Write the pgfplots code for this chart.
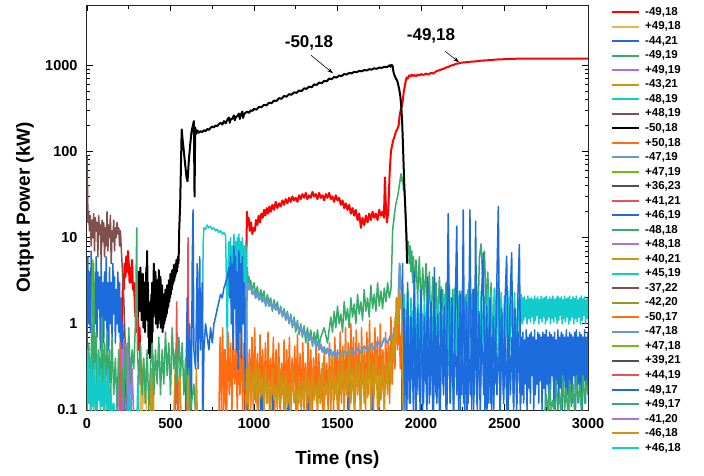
\documentclass[border=0pt]{standalone}
\usepackage{pgfplots}
\pgfplotsset{compat=1.18}
\usepackage{fontspec}
\setmainfont{Liberation Sans}
\usetikzlibrary{arrows.meta}
\definecolor{cRed}{RGB}{255,0,0}
\definecolor{cLGold}{RGB}{232,182,76}
\definecolor{cBlue}{RGB}{28,108,222}
\definecolor{cGreen}{RGB}{58,172,106}
\definecolor{cPurple}{RGB}{176,112,228}
\definecolor{cGold}{RGB}{204,150,18}
\definecolor{cCyan}{RGB}{18,204,204}
\definecolor{cBrown}{RGB}{128,80,76}
\definecolor{cOrange}{RGB}{255,108,18}
\definecolor{cLBlue}{RGB}{102,152,210}
\definecolor{cLime}{RGB}{108,190,20}
\definecolor{cDGray}{RGB}{80,80,80}
\definecolor{cLRed}{RGB}{240,80,80}
\definecolor{cOlive}{RGB}{150,150,40}
\begin{document}
\begin{tikzpicture}
\begin{axis}[
  name=ax, at={(0,0)}, anchor=south west,
  scale only axis, width=501pt, height=405pt,
  xmin=0, xmax=3000, ymin=0.1, ymax=5000, ymode=log,
  unbounded coords=jump, no markers,
  every axis plot/.append style={line width=1.5pt, line join=round},
  xtick={0,500,...,3000}, xticklabels={0,500,1000,1500,2000,2500,3000},
  minor x tick num=1,
  ytick={0.1,1,10,100,1000}, yticklabels={0.1,1,10,100,1000},
  /pgf/number format/assume math mode=true,
  tick label style={font=\bfseries\fontsize{14.5}{16}\selectfont},
  yticklabel style={xshift=-6pt}, xticklabel style={yshift=-5pt},
  major tick length=6pt, minor tick length=3.5pt,
  every tick/.style={black, line width=0.8pt},
  axis line style={line width=1pt, black!85},
  xlabel={Time (ns)}, ylabel={Output Power (kW)},
  label style={font=\bfseries\fontsize{19}{22}\selectfont},
  xlabel style={at={(axis description cs:0.5,-0.1235)}, anchor=center},
  ylabel style={at={(axis description cs:-0.1238,0.5)}, anchor=center},
  legend style={at={(axis description cs:1,1)}, anchor=north west, xshift=23pt, yshift=0pt,
    draw=none, fill=none, inner sep=0pt, font=\bfseries\fontsize{11.5}{13}\selectfont,
    row sep=1pt, /tikz/every odd column/.append style={column sep=3pt}},
  legend cell align=left,
  legend image code/.code={\draw[#1, line width=2pt] (0pt,0pt) -- (27pt,0pt);},
]
% 1 -49,18
\addplot[cRed, line width=2pt] coordinates {(205,0.09)(210,1)(215,3)(220,2.5)(225,5)(230,3.5)(235,6)(240,4)(245,7)(250,5)(255,3)(260,4.5)(265,3)(270,5.5)(275,2.5)(280,3)(285,2)(290,1.2)(295,2)(300,0.8)(305,1.5)(310,0.5)(315,0.9)(320,0.3)(325,0.09)(330,nan)
(945,0.09)(952,3)(958,20)(963,14)(968,17)(975,12)(982,15)(990,11)(997,13)(1005,12)(1012,16)(1020,14)(1028,18)(1036,15)(1044,19)(1052,17)(1060,21)(1068,18)(1076,22)(1084,19)(1092,23)(1100,20)(1110,24)(1120,21)(1130,26)(1140,22)(1150,25)(1160,23)(1170,27)(1180,24)(1190,28)(1200,25)(1210,29)(1220,26)(1230,30)(1240,27)(1250,29)(1260,26)(1270,31)(1280,28)(1290,32)(1300,29)(1310,33)(1320,28)(1330,31)(1340,29)(1350,34)(1360,30)(1370,32)(1380,28)(1390,33)(1400,29)(1410,31)(1420,27)(1430,32)(1440,29)(1450,33)(1460,28)(1470,30)(1480,26)(1490,31)(1500,27)(1510,29)(1520,24)(1530,27)(1540,22)(1550,25)(1560,21)(1570,24)(1580,19)(1590,22)(1600,18)(1610,21)(1620,16)(1630,19)(1640,13)(1650,17)(1660,14)(1670,18)(1680,15)(1690,19)(1700,16)(1710,20)(1720,17)(1730,19)(1740,16)(1750,21)(1760,18)(1770,20)(1778,17)(1784,50)(1790,22)(1796,15)(1804,20)(1812,55)(1820,100)(1826,115)(1834,135)(1842,150)(1850,170)(1858,180)(1866,200)(1872,260)(1878,300)(1884,330)(1890,380)(1896,480)(1902,560)(1908,650)(1914,720)(1920,700)(1928,760)(1936,740)(1944,780)(1952,750)(1960,770)(1970,745)(1980,780)(1990,760)(2000,790)(2015,770)(2030,800)(2045,780)(2060,820)(2075,800)(2090,850)(2105,870)(2120,890)(2135,910)(2150,940)(2165,960)(2180,990)(2195,1010)(2210,1040)(2225,1050)(2240,1070)(2260,1080)(2280,1090)(2300,1100)(2330,1110)(2360,1130)(2390,1140)(2420,1150)(2450,1165)(2480,1170)(2510,1180)(2540,1185)(2570,1190)(2600,1190)(2650,1190)(2700,1195)(2750,1190)(2800,1195)(2850,1190)(2900,1195)(2950,1190)(3000,1195)};
\addlegendentry{-49,18}
% 2 +49,18
\addplot[cLGold] coordinates {(320,0.09)(326,0.35)(332,0.1)(338,0.4)(344,0.12)(350,0.3)(356,0.09)};
\addlegendentry{+49,18}
% 3 -44,21
\addplot[cBlue] coordinates {(0,0.5)(5,6)(10,1)(15,4)(20,0.8)(25,7)(30,1.2)(35,5)(40,0.6)(45,3)(50,1)(55,6)(60,0.7)(65,4)(70,1.5)(75,3.5)(80,0.5)(85,5)(90,0.9)(95,3)(100,0.6)(105,4)(110,1.1)(115,6)(120,0.8)(125,3)(130,0.5)(135,4.5)(140,1)(145,3)(150,0.7)(155,5)(160,1.3)(165,3.5)(170,0.6)(175,2.5)(180,1)(185,4)(190,0.8)(195,3)(200,0.5)(205,2)(210,0.3)(215,1)(220,0.15)(225,0.09)(230,nan)(1040,0.09)(1045,0.3)(1050,0.09)(1110,0.09)(1115,0.25)(1120,0.09)(1200,0.09)(1205,0.35)(1210,0.09)(1320,0.09)(1325,0.2)(1330,0.09)(1560,0.09)(1565,0.3)(1570,0.09)(1700,0.09)(1705,0.25)(1710,0.09)};
\addlegendentry{-44,21}
% 4 -49,19
\addplot[cGreen] coordinates {(950,0.09)(955,2)(960,4.5)(965,3)(970,3.5)(975,2.5)(980,3.2)(990,2.4)(1000,3)(1010,2.2)(1020,2.7)(1030,1.9)(1040,2.5)(1050,2)(1060,2.4)(1070,1.6)(1080,2.2)(1090,1.7)(1100,2)(1110,1.4)(1120,1.9)(1130,1.5)(1140,1.8)(1150,1.3)(1160,1.6)(1170,1.2)(1180,1.5)(1190,1.1)(1200,1.4)(1210,1)(1220,1.3)(1230,0.9)(1240,1.2)(1250,0.8)(1260,1.1)(1270,0.75)(1280,1)(1290,0.7)(1300,0.95)(1310,0.6)(1320,0.9)(1330,0.65)(1340,0.85)(1350,0.55)(1360,0.8)(1370,0.6)(1380,0.85)(1390,0.55)(1400,0.7)(1420,0.9)(1440,0.6)(1460,1.2)(1470,0.8)(1480,1.4)(1490,0.9)(1500,1.6)(1510,1)(1520,1.3)(1530,0.8)(1540,1.8)(1550,1.1)(1560,1.5)(1570,0.9)(1580,2)(1590,1.2)(1600,1.7)(1610,1)(1620,2.2)(1630,1.3)(1640,1.8)(1650,1.1)(1660,2.5)(1670,1.4)(1680,2)(1690,1.2)(1700,2.8)(1710,1.5)(1720,2.2)(1730,1.4)(1740,3)(1750,1.6)(1760,2.4)(1770,1.5)(1780,2.6)(1790,1.8)(1800,3)(1810,2)(1820,2.5)(1825,5)(1830,12)(1840,18)(1850,25)(1860,30)(1870,40)(1880,55)(1885,45)(1890,50)(1895,35)(1900,38)(1905,25)(1910,15)(1915,10)(1920,7)(1925,9)(1930,5)(1935,8)(1940,4)(1945,7)(1950,3)(1955,6)(1960,2.5)(1970,5.5)(1980,2)(1990,6)(2000,1.5)(2010,4.5)(2020,1.8)(2030,5)(2040,1.2)(2050,4)(2060,0.8)(2070,3.5)(2080,1.5)(2090,3)(2100,0.9)(2110,3.5)(2120,1.2)(2130,2.5)(2140,0.7)(2150,3)(2160,1.1)(2170,2.8)(2180,0.6)(2190,2.5)(2200,1)(2210,3)(2220,0.8)(2230,2.4)(2240,0.5)(2250,2.8)(2260,0.9)(2270,2.2)(2280,0.5)(2290,3)(2300,0.8)(2310,2.5)(2320,0.6)(2330,4)(2340,1)(2350,6)(2360,8.5)(2370,3)(2380,7)(2390,1.5)(2400,4)(2410,0.8)(2420,3)(2430,0.6)(2440,2.5)(2450,0.5)(2460,3)(2470,0.4)(2480,2)(2490,0.3)(2500,1.5)(2510,0.2)(2520,0.09)};
\addlegendentry{-49,19}
% 5 +49,19
\addplot[cPurple] coordinates {(185,0.09)(190,0.4)(195,0.12)(200,0.6)(205,0.15)(210,0.5)(215,0.1)(220,0.65)(225,0.2)(230,0.55)(235,0.12)(240,0.6)(245,0.2)(250,0.5)(255,0.15)(260,0.4)(265,0.1)(270,0.3)(280,0.09)};
\addlegendentry{+49,19}
% 6 -43,21
\addplot[cGold] coordinates {(380,0.09)(385,0.3)(390,0.1)(395,0.45)(400,0.09)(405,nan)(520,0.09)(528,0.3)(535,0.12)(542,0.25)(549,0.1)(556,0.3)(563,0.09)};
\addlegendentry{-43,21}
% 7 -48,19
\addplot[cCyan] coordinates {(690,0.09)(695,8)(700,13)(710,12.5)(720,14)(730,13)(740,13.5)(750,12.5)(760,13)(770,12)(780,12.5)(790,11.5)(800,12)(810,11)(820,11.5)(830,10.5)(835,3)(840,0.5)(845,5)(850,9)(855,2)(860,10)(865,1)(870,8)(875,0.4)(880,11)(885,3)(890,9)(895,0.3)(900,10)(905,2)(910,11)(915,0.5)(920,9)(925,3)(930,10)(935,1)(940,8)(945,2)(950,9)(955,5)(960,0.09)};
\addlegendentry{-48,19}
% 8 +48,19
\addplot[cBrown] coordinates {(0,90)(3,40)(6,15)(10,20)(15,12)(20,18)(25,8)(30,16)(35,10)(40,19)(45,7)(50,17)(55,12)(60,15)(65,6)(70,18)(75,11)(80,14)(85,5)(90,16)(95,9)(100,15)(105,6)(110,13)(115,8)(120,20)(125,7)(130,14)(135,10)(140,18)(145,5)(150,12)(155,9)(160,16)(165,7)(170,13)(175,10)(180,15)(185,11)(190,13)(195,8)(200,12)(210,5)(220,2)(230,0.5)(235,0.09)};
\addlegendentry{+48,19}
% 9 -50,18
\addplot[black, line width=2pt] coordinates {(300,3)(302.5,1.2)(305,2.8)(307.5,1.5)(310,4)(312.5,1.8)(315,3.2)(317.5,1.4)(320,4.5)(322.5,2)(325,3.5)(327.5,1.1)(330,2.5)(332.5,1.3)(335,3.8)(337.5,0.9)(340,2.2)(342.5,1)(345,3)(347.5,0.8)(350,2)(352.5,1.1)(355,4.5)(357.5,2.5)(360,7)(362.5,2)(365,3)(367.5,0.7)(370,1.5)(372.5,0.45)(375,1.2)(377.5,0.4)(380,1.8)(382.5,0.6)(385,2.2)(387.5,0.5)(390,3)(392.5,0.8)(395,2.5)(397.5,1.2)(400,5)(402.5,1.5)(405,3.5)(407.5,1.3)(410,4)(412.5,1)(415,3)(417.5,1.2)(420,3.2)(422.5,0.9)(425,2.5)(427.5,1)(430,4.2)(432.5,1.4)(435,3)(437.5,1.1)(440,3.5)(442.5,0.9)(445,2.6)(447.5,1)(450,2.8)(452.5,0.8)(455,2)(457.5,0.9)(460,2.2)(462.5,1)(465,1.8)(467.5,1.1)(470,2.5)(472.5,1.2)(475,2.2)(477.5,1.3)(480,2.8)(482.5,1.5)(485,2.5)(487.5,1.6)(490,3.2)(492.5,1.8)(495,3)(497.5,2)(500,3.8)(502.5,2.2)(505,3.5)(507.5,2.5)(510,4.2)(512.5,2.8)(515,4)(517.5,3)(520,4.8)(522.5,3.2)(525,4.5)(527.5,3.5)(530,5)(532.5,3.8)(535,5.5)(537.5,4)(540,5.2)(542.5,4.5)(545,6)(547.5,5)(550,7)(552,12)(558,25)(562,60)(567,180)(572,140)(580,100)(588,70)(596,50)(602,45)(610,80)(618,120)(626,170)(634,200)(640,225)(644,30)(648,190)(655,160)(662,175)(670,165)(680,172)(690,168)(700,176)(710,172)(720,182)(730,178)(740,188)(750,195)(760,190)(770,200)(780,196)(790,208)(800,215)(810,205)(820,225)(830,212)(840,232)(850,248)(855,215)(860,235)(870,240)(880,262)(885,230)(890,248)(900,258)(910,275)(915,238)(920,262)(930,290)(935,245)(940,270)(950,282)(960,288)(970,280)(980,300)(990,295)(1000,312)(1015,305)(1030,330)(1045,325)(1060,348)(1075,342)(1090,368)(1105,362)(1120,390)(1135,385)(1150,415)(1165,408)(1180,440)(1195,432)(1210,462)(1225,455)(1240,485)(1255,478)(1270,510)(1285,500)(1300,540)(1315,532)(1330,565)(1345,555)(1360,600)(1375,590)(1390,630)(1405,618)(1420,660)(1435,650)(1450,700)(1465,690)(1480,730)(1495,720)(1510,760)(1525,750)(1540,790)(1555,780)(1570,815)(1585,805)(1600,840)(1615,830)(1630,860)(1645,850)(1660,880)(1675,870)(1690,900)(1705,890)(1720,920)(1735,910)(1750,940)(1765,930)(1780,960)(1795,950)(1805,975)(1812,1000)(1818,960)(1824,1010)(1830,980)(1836,820)(1842,760)(1850,700)(1858,660)(1864,590)(1870,520)(1876,440)(1882,330)(1888,200)(1894,90)(1900,40)(1906,22)(1912,11)(1917,5)};
\addlegendentry{-50,18}
% 10 +50,18
\addplot[cOrange] coordinates {(790,0.09)(797,0.7)(805,0.1)(812,0.9)(820,0.12)(828,0.5)(836,0.09)(844,0.8)(852,0.15)(860,0.6)(868,0.1)(876,0.85)(884,0.2)(892,0.5)(900,0.1)(908,0.7)(916,0.15)(924,0.9)(932,0.1)(940,0.6)(948,0.12)(956,0.8)(964,0.1)(972,0.5)(980,0.15)(988,0.7)(996,0.1)(1004,0.9)(1012,0.12)(1020,0.45)(1028,0.1)(1036,0.75)(1044,0.15)(1052,0.5)(1060,0.1)(1068,0.6)(1076,0.12)(1084,0.8)(1092,0.1)(1100,0.4)(1108,0.15)(1116,0.7)(1124,0.1)(1132,0.5)(1140,0.12)(1148,0.6)(1156,0.1)(1164,0.35)(1172,0.15)(1180,0.65)(1188,0.1)(1196,0.5)(1204,0.12)(1212,0.7)(1220,0.1)(1228,0.4)(1236,0.15)(1244,0.55)(1252,0.1)(1260,0.75)(1268,0.12)(1276,0.45)(1284,0.1)(1292,0.6)(1300,0.15)(1308,0.35)(1316,0.1)(1324,0.7)(1332,0.12)(1340,0.5)(1348,0.1)(1356,0.4)(1364,0.15)(1372,0.6)(1380,0.1)(1388,0.45)(1396,0.12)(1404,0.3)(1412,0.1)(1420,0.5)(1428,0.15)(1436,0.35)(1444,0.1)(1452,0.6)(1460,0.12)(1468,0.45)(1476,0.1)(1484,0.7)(1492,0.15)(1500,0.5)(1508,0.1)(1516,0.8)(1524,0.12)(1532,0.55)(1540,0.1)(1548,0.9)(1556,0.15)(1564,0.6)(1572,0.1)(1580,1.0)(1588,0.2)(1596,0.7)(1604,0.1)(1612,0.85)(1620,0.15)(1628,0.6)(1636,0.1)(1644,0.9)(1652,0.2)(1660,0.5)(1668,0.1)(1676,0.8)(1684,0.15)(1692,1.1)(1700,0.12)(1708,0.6)(1716,0.1)(1724,0.9)(1732,0.2)(1740,0.7)(1748,0.1)(1756,1.0)(1764,0.15)(1772,0.5)(1780,0.1)(1788,0.8)(1796,0.2)(1804,0.6)(1812,0.12)(1820,1.2)(1828,0.2)(1836,0.9)(1844,0.3)(1852,2)(1860,0.5)(1868,1.5)(1876,0.3)(1884,0.8)(1892,0.09)};
\addlegendentry{+50,18}
% 11 -47,19
\addplot[cLBlue, line width=2pt] coordinates {(950,0.09)(955,1.5)(960,3)(970,2.5)(980,2.8)(990,2.2)(1000,2.4)(1010,2)(1020,2.3)(1030,1.9)(1040,2.1)(1050,1.8)(1060,2)(1070,1.7)(1080,1.9)(1090,1.6)(1100,1.8)(1110,1.5)(1120,1.7)(1130,1.45)(1140,1.6)(1150,1.35)(1160,1.5)(1170,1.25)(1180,1.4)(1190,1.15)(1200,1.3)(1210,1.05)(1220,1.2)(1230,0.95)(1240,1.1)(1250,0.9)(1260,1)(1270,0.82)(1280,0.92)(1290,0.75)(1300,0.85)(1310,0.7)(1320,0.78)(1330,0.64)(1340,0.72)(1350,0.6)(1360,0.66)(1370,0.55)(1380,0.62)(1390,0.5)(1400,0.58)(1410,0.47)(1420,0.54)(1430,0.45)(1440,0.52)(1450,0.43)(1460,0.5)(1470,0.42)(1480,0.48)(1490,0.41)(1500,0.47)(1520,0.42)(1540,0.48)(1560,0.43)(1580,0.5)(1600,0.44)(1620,0.52)(1640,0.46)(1660,0.55)(1680,0.48)(1700,0.58)(1720,0.5)(1740,0.62)(1760,0.54)(1780,0.68)(1800,0.6)(1820,0.75)(1840,0.7)(1855,0.9)(1865,2)(1872,5)(1880,3)(1890,1)(1900,0.3)(1905,0.09)};
\addlegendentry{-47,19}
% 12 +47,19
\addplot[cLime] coordinates {(25,0.09)(30,2)(35,5.5)(40,3)(45,0.5)(50,0.09)};
\addlegendentry{+47,19}
% 13 +36,23
\addplot[cDGray] coordinates {(0,0.05)(3000,0.05)};
\addlegendentry{+36,23}
% 14 +41,21
\addplot[cLRed] coordinates {(530,0.09)(537,1.8)(544,0.09)(560,nan)(598,0.09)(605,10)(612,0.09)};
\addlegendentry{+41,21}
% 15 +46,19
\addplot[cBlue] coordinates {(590,0.09)(600,2)(605,0.1)(615,1)(625,0.09)(630,5)(635,21)(640,0.5)(650,0.3)(660,5)(665,0.3)(675,6)(680,0.5)(690,3)(695,0.09)(700,0.5)(710,1)(720,0.7)(730,0.5)(740,0.9)(750,0.6)(760,1)(770,1.2)(780,1.5)(790,1.8)(800,2.2)(810,2)(820,2.6)(830,3)(840,3.5)(850,4.5)(855,2)(860,6)(865,1)(870,5)(875,0.5)(880,8)(885,1.5)(890,6)(895,0.5)(900,4)(905,0.3)(910,7)(915,0.8)(920,5)(925,0.4)(930,6)(935,1)(940,3)(945,0.5)(950,0.15)(960,0.09)(970,nan)
(1895,0.09)(1905,0.9)(1915,0.1)(1925,1.2)(1935,0.12)(1945,0.7)(1955,0.09)(1965,1.0)(1975,0.15)(1985,0.8)(1995,0.1)(2005,1.3)(2015,0.12)(2025,0.9)(2035,0.09)(2045,1.2)(2055,0.15)(2065,0.7)(2075,0.1)(2085,1.0)(2095,0.12)(2105,0.8)(2115,0.09)(2125,1.3)(2135,0.15)(2145,0.9)(2155,0.1)(2165,1.2)(2175,0.12)(2185,0.7)(2195,0.09)(2205,1.0)(2215,0.15)(2225,0.8)(2235,0.1)(2245,1.3)(2255,0.12)(2265,0.9)(2275,0.09)(2285,1.2)(2295,0.15)(2305,0.7)(2315,0.1)(2325,1.0)(2335,0.12)(2345,0.8)(2355,0.09)(2365,1.3)(2375,0.15)(2385,0.9)(2395,0.1)(2405,1.2)(2415,0.12)(2425,0.7)(2435,0.09)(2445,1.0)(2455,0.15)(2465,0.8)(2475,0.1)(2485,1.3)(2495,0.12)(2505,0.9)(2515,0.09)(2525,1.2)(2535,0.15)(2545,0.7)(2555,0.1)(2565,1.0)(2575,0.12)(2585,0.8)(2595,0.1)};
\addlegendentry{+46,19}
% 16 -48,18
\addplot[cGreen] coordinates {(0,0.2)(10,0.6)(20,0.15)(30,1)(35,0.2)(40,5)(45,0.3)(55,0.8)(60,0.15)(70,0.5)(80,0.2)(90,1.2)(95,0.2)(105,0.6)(110,0.12)(120,0.8)(125,0.2)(135,0.5)(140,0.1)(150,0.7)(160,0.15)(170,0.4)(180,0.1)(190,0.5)(200,0.12)(210,0.3)(220,0.1)(230,0.6)(240,0.15)(250,0.9)(260,0.2)(270,0.5)(280,0.3)(290,1)(295,5)(298,13)(302,0.5)(310,0.2)(320,0.6)(330,0.15)(340,0.4)(350,0.12)(360,0.5)(370,0.1)(380,0.3)(390,0.6)(400,0.15)(410,0.5)(420,0.2)(430,0.7)(440,0.15)(450,0.5)(460,0.2)(470,0.8)(480,0.25)(490,0.6)(500,0.15)(510,0.9)(520,0.3)(530,0.5)(540,0.2)(550,0.7)(560,0.25)(570,0.6)(580,0.15)(590,0.4)(600,0.12)(610,0.3)(620,0.1)(640,0.2)(650,0.09)};
\addlegendentry{-48,18}
% 17 +48,18
\addplot[cPurple] coordinates {(240,0.09)(244,0.45)(248,0.09)};
\addlegendentry{+48,18}
% 18 +40,21
\addplot[cGold] coordinates {(600,0.09)(605,0.25)(610,0.09)(630,nan)(650,0.09)(655,0.3)(660,0.09)};
\addlegendentry{+40,21}
% 19 +45,19
\addplot[cCyan] coordinates {(1890,0.09)(1900,2.2)(1910,0.5)(1920,2.6)(1930,0.4)(1940,2.0)(1950,0.7)(1960,2.8)(1970,0.3)(1980,2.2)(1990,0.6)(2000,2.5)(2010,0.4)(2020,1.8)(2030,0.8)(2040,2.6)(2050,0.3)(2060,2.1)(2070,0.6)(2080,2.4)(2090,0.35)(2100,1.9)(2110,0.7)(2120,2.7)(2130,0.4)(2140,2.2)(2150,0.5)(2160,2.5)(2170,0.3)(2180,2.0)(2190,0.6)(2200,2.6)(2210,0.45)(2220,2.1)(2230,0.7)(2240,2.4)(2250,0.35)(2260,2.0)(2270,0.6)(2280,2.5)(2290,0.4)(2300,2.2)(2310,0.8)(2320,2.6)(2330,0.5)(2340,2.1)(2350,0.3)(2360,2.4)(2370,0.6)(2380,2.0)(2390,0.45)(2400,2.5)(2410,0.7)(2420,2.2)(2430,0.4)(2440,2.6)(2450,0.6)(2460,2.0)(2470,0.35)(2480,2.3)(2490,0.5)(2500,2.1)(2510,0.7)(2520,2.4)(2530,0.4)(2540,1.9)(2550,0.6)(2560,2.3)(2570,0.5)(2580,2.0)(2590,0.8)(2600,2.2)(2605,1.0)(2610,2.0)(2615,1.1)(2620,2.05)(2625,1.2)(2630,1.9)(2635,1.0)(2640,2.1)(2645,1.15)(2650,1.95)(2655,1.05)(2660,2.0)(2665,1.2)(2670,1.9)(2675,1.0)(2680,2.1)(2685,1.1)(2690,1.95)(2695,1.25)(2700,2.05)(2705,1.0)(2710,1.9)(2715,1.15)(2720,2.1)(2725,1.05)(2730,1.95)(2735,1.2)(2740,2.0)(2745,1.0)(2750,2.1)(2755,1.1)(2760,1.9)(2765,1.2)(2770,2.05)(2775,1.0)(2780,1.95)(2785,1.15)(2790,2.1)(2795,1.05)(2800,1.9)(2805,1.2)(2810,2.0)(2815,1.0)(2820,2.1)(2825,1.1)(2830,1.95)(2835,1.25)(2840,2.05)(2845,1.0)(2850,1.9)(2855,1.15)(2860,2.1)(2865,1.05)(2870,1.95)(2875,1.2)(2880,2.0)(2885,1.0)(2890,2.1)(2895,1.1)(2900,1.9)(2905,1.2)(2910,2.05)(2915,1.0)(2920,1.95)(2925,1.15)(2930,2.1)(2935,1.05)(2940,1.9)(2945,1.2)(2950,2.0)(2955,1.0)(2960,2.1)(2965,1.1)(2970,1.95)(2975,1.25)(2980,2.05)(2985,1.0)(2990,1.9)(2995,1.15)(3000,2.0)};
\addlegendentry{+45,19}
% 20 -37,22
\addplot[cBrown] coordinates {(0,0.05)(3000,0.05)};
\addlegendentry{-37,22}
% 21 -42,20
\addplot[cOlive] coordinates {(0,0.05)(3000,0.05)};
\addlegendentry{-42,20}
% 22 -50,17
\addplot[cOrange] coordinates {(815,0.09)(822,0.5)(830,0.09)(850,nan)(1250,0.09)(1256,0.4)(1262,0.09)};
\addlegendentry{-50,17}
% 23 -47,18
\addplot[cLBlue] coordinates {(0,0.05)(3000,0.05)};
\addlegendentry{-47,18}
% 24 +47,18
\addplot[cLime] coordinates {(100,0.09)(104,0.3)(108,0.09)};
\addlegendentry{+47,18}
% 25 +39,21
\addplot[cDGray] coordinates {(0,0.05)(3000,0.05)};
\addlegendentry{+39,21}
% 26 +44,19
\addplot[cLRed] coordinates {(195,0.09)(200,0.6)(205,0.09)};
\addlegendentry{+44,19}
% 27 -49,17
\addplot[cBlue] coordinates {(1885,0.09)(1890,5)(1895,0.1)(1900,1.5)(1910,0.15)(1920,3)(1930,0.12)(1940,1.2)(1950,0.2)(1960,4)(1970,0.1)(1980,1.5)(1990,0.15)(2000,2.5)(2010,0.1)(2020,1.2)(2030,0.2)(2040,3.5)(2050,0.12)(2060,1.8)(2070,0.1)(2080,4.5)(2090,0.15)(2100,1.3)(2110,0.1)(2120,2.5)(2130,0.2)(2140,1.6)(2150,0.1)(2163,19)(2175,0.12)(2185,2)(2195,0.1)(2205,1.5)(2214,13.6)(2225,0.1)(2235,2.2)(2245,0.15)(2253,21)(2262,0.1)(2272,1.8)(2282,0.12)(2293,21)(2303,0.1)(2313,2.5)(2320,0.15)(2327,15.5)(2337,0.1)(2347,1.4)(2357,0.2)(2365,2.8)(2373,6.7)(2383,0.1)(2393,1.6)(2403,0.12)(2413,2)(2423,0.1)(2433,1.2)(2443,0.2)(2453,2.4)(2463,23)(2473,0.1)(2483,1.5)(2493,0.15)(2503,1.8)(2513,6.1)(2523,0.1)(2533,1.7)(2543,6.7)(2553,0.12)(2563,1.5)(2573,0.1)(2580,2)(2589,8.3)(2598,0.12)(2600,0.7)(2605,0.15)(2610,0.8)(2615,0.12)(2620,0.65)(2625,0.2)(2630,0.85)(2635,0.1)(2640,0.7)(2645,0.18)(2650,0.75)(2655,0.12)(2660,0.8)(2665,0.25)(2670,0.7)(2675,0.1)(2680,0.85)(2685,0.15)(2690,0.65)(2695,0.2)(2700,0.8)(2705,0.12)(2710,0.75)(2715,0.22)(2720,0.7)(2725,0.1)(2730,0.8)(2735,0.18)(2740,0.75)(2745,0.12)(2750,0.85)(2755,0.2)(2760,0.7)(2765,0.1)(2770,0.8)(2775,0.15)(2780,0.75)(2785,0.25)(2790,0.7)(2795,0.12)(2800,0.8)(2805,0.1)(2810,0.65)(2815,0.2)(2820,0.85)(2825,0.12)(2830,0.7)(2835,0.18)(2840,0.8)(2845,0.1)(2850,0.75)(2855,0.22)(2860,0.7)(2865,0.12)(2870,0.85)(2875,0.15)(2880,0.7)(2885,0.1)(2890,0.8)(2895,0.2)(2900,0.75)(2905,0.12)(2910,0.7)(2915,0.25)(2920,0.8)(2925,0.1)(2930,0.85)(2935,0.15)(2940,0.7)(2945,0.2)(2950,0.8)(2955,0.12)(2960,0.75)(2965,0.1)(2970,0.7)(2975,0.22)(2980,0.85)(2985,0.12)(2990,0.7)(2995,0.18)(3000,0.8)};
\addlegendentry{-49,17}
% 28 +49,17
\addplot[cGreen] coordinates {(2740,0.09)(2750,0.15)(2760,0.09)(2770,0.2)(2780,0.1)(2790,0.13)(2800,0.09)(2810,0.22)(2820,0.1)(2830,0.16)(2840,0.09)(2850,0.25)(2860,0.1)(2870,0.18)(2880,0.09)(2890,0.22)(2900,0.11)(2910,0.2)(2920,0.09)(2930,0.25)(2940,0.12)(2950,0.2)(2960,0.1)(2970,0.25)(2980,0.12)(2990,0.22)(3000,0.15)};
\addlegendentry{+49,17}
% 29 -41,20
\addplot[cPurple] coordinates {(0,0.05)(3000,0.05)};
\addlegendentry{-41,20}
% 30 -46,18
\addplot[cGold] coordinates {(950,0.09)(955,0.3)(960,0.12)(970,0.35)(980,0.1)(990,0.28)(1000,0.13)(1010,0.4)(1020,0.1)(1030,0.3)(1040,0.14)(1050,0.25)(1060,0.1)(1070,0.32)(1080,0.12)(1090,0.22)(1100,0.1)(1110,0.3)(1120,0.13)(1130,0.2)(1140,0.1)(1150,0.35)(1160,0.12)(1170,0.25)(1180,0.1)(1190,0.28)(1200,0.11)(1210,0.2)(1220,0.1)(1230,0.3)(1240,0.12)(1250,0.18)(1260,0.1)(1270,0.25)(1280,0.11)(1290,0.2)(1300,0.1)(1310,0.28)(1320,0.12)(1330,0.22)(1340,0.1)(1350,0.3)(1360,0.13)(1370,0.2)(1380,0.1)(1390,0.25)(1400,0.12)(1410,0.35)(1420,0.1)(1430,0.22)(1440,0.14)(1450,0.3)(1460,0.1)(1470,0.4)(1480,0.13)(1490,0.25)(1500,0.1)(1510,0.35)(1520,0.15)(1530,0.45)(1540,0.1)(1550,0.3)(1560,0.14)(1570,0.5)(1580,0.12)(1590,0.3)(1600,0.1)(1610,0.4)(1620,0.15)(1630,0.35)(1640,0.1)(1650,0.45)(1660,0.12)(1670,0.3)(1680,0.14)(1690,0.5)(1700,0.1)(1710,0.35)(1720,0.15)(1730,0.45)(1740,0.1)(1750,0.3)(1760,0.13)(1770,0.4)(1780,0.1)(1790,0.35)(1800,0.15)(1810,0.5)(1820,0.2)(1830,0.7)(1838,0.4)(1845,1.2)(1852,0.6)(1858,2)(1864,1)(1870,2.5)(1876,1.5)(1882,2.2)(1888,0.5)(1893,0.09)};
\addlegendentry{-46,18}
% 31 +46,18
\addplot[cCyan] coordinates {(0,0.1)(5,0.5)(10,0.12)(15,0.3)(20,0.1)(25,0.4)(30,0.11)(35,0.25)(40,0.1)(45,0.35)(50,0.12)(55,0.2)(60,0.1)(65,0.45)(70,0.13)(75,0.25)(80,0.1)(85,0.3)(90,0.11)(95,0.2)(100,0.1)(105,0.35)(110,0.12)(115,0.22)(120,0.1)(125,0.3)(130,0.1)(135,0.18)(140,0.09)(145,0.15)(150,0.09)(160,0.12)(170,0.09)(180,nan)(250,0.09)(255,0.2)(260,0.09)(270,nan)(300,0.09)(305,0.25)(310,0.09)};
\addlegendentry{+46,18}
% annotations
\node[font=\bfseries\fontsize{17}{20}\selectfont] at (axis cs:1329,1802) {-50,18};
\draw[-{Stealth[length=6pt,width=4pt]}, line width=0.6pt] (axis cs:1341,1307) -- (axis cs:1473,807);
\node[font=\bfseries\fontsize{17}{20}\selectfont] at (axis cs:2060,2175) {-49,18};
\draw[-{Stealth[length=6pt,width=4pt]}, line width=0.6pt] (axis cs:2144,1455) -- (axis cs:2228,1083);
\end{axis}
\pgfresetboundingbox
\path[use as bounding box] (-87pt,-65pt) rectangle (617pt,410pt);
\end{tikzpicture}
\end{document}
